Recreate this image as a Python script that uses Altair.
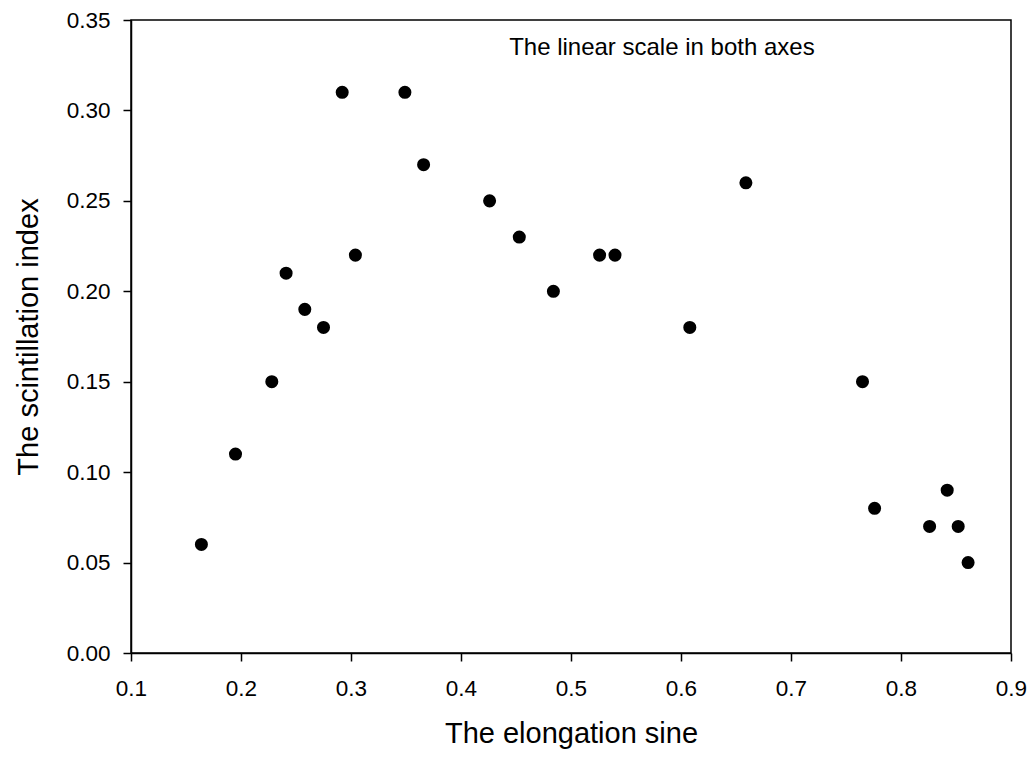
import altair as alt
import pandas as pd

# Elongation sine (x) and scintillation index (y)
elong_sine = [0.164, 0.195, 0.228, 0.241, 0.258, 0.275, 0.292, 0.304, 0.349, 0.366,
              0.426, 0.453, 0.484, 0.526, 0.540, 0.608, 0.659, 0.765, 0.776, 0.826,
              0.842, 0.852, 0.861]
scint_index = [0.06, 0.11, 0.15, 0.21, 0.19, 0.18, 0.31, 0.22, 0.31, 0.27,
               0.25, 0.23, 0.20, 0.22, 0.22, 0.18, 0.26, 0.15, 0.08, 0.07,
               0.09, 0.07, 0.05]

x_ticks = [0.1, 0.2, 0.3, 0.4, 0.5, 0.6, 0.7, 0.8, 0.9]
y_ticks = [0.00, 0.05, 0.10, 0.15, 0.20, 0.25, 0.30, 0.35]

note_text = ["The linear scale in both axes"]

df = pd.DataFrame({"sine": elong_sine, "index": scint_index})
note_df = pd.DataFrame({"label": note_text, "nx": [0.7215], "ny": [0.3345]})

FONT = "Liberation Sans"

x_scale = alt.Scale(domain=[0.1, 0.9], nice=False, zero=False)
y_scale = alt.Scale(domain=[0.0, 0.35], nice=False, zero=False)

points = alt.Chart(df).mark_circle(size=170, color="black", opacity=1).encode(
    x=alt.X("sine:Q", scale=x_scale,
            axis=alt.Axis(title="The elongation sine", values=x_ticks, format=".1f",
                          labelFlush=False, titleY=89, titleBaseline="alphabetic")),
    y=alt.Y("index:Q", scale=y_scale,
            axis=alt.Axis(title="The scintillation index", values=y_ticks, format=".2f",
                          labelFlush=False, titleX=-94, titleBaseline="alphabetic")),
)

note = alt.Chart(note_df).mark_text(
    align="right", baseline="middle", fontSize=24, font=FONT, color="black"
).encode(
    x=alt.X("nx:Q", scale=x_scale),
    y=alt.Y("ny:Q", scale=y_scale),
    text="label:N",
)

chart = alt.layer(points, note).properties(
    width=880,
    height=633,
    autosize=alt.AutoSizeParams(type="none"),
    padding={"left": 123, "top": 12, "right": 16, "bottom": 96},
    background="white",
).configure_view(
    stroke="black", strokeWidth=1.5
).configure_axis(
    grid=False,
    domainColor="black",
    domainWidth=1.5,
    tickColor="black",
    tickWidth=1.5,
    tickSize=8,
    labelFont=FONT,
    labelFontSize=22.5,
    labelColor="black",
    titleFont=FONT,
    titleFontSize=29,
    titleFontWeight="normal",
    titleColor="black",
).configure_axisY(
    labelPadding=13,
).configure_axisX(
    labelPadding=16,
)

chart.save("out.html", embed_options={"renderer": "svg", "actions": False})
